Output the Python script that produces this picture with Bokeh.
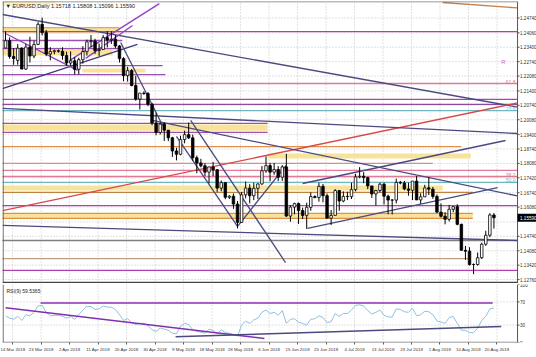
from bokeh.plotting import figure
from bokeh.models import Range1d, FixedTicker, ColumnDataSource
from bokeh.core.properties import value
from bokeh.layouts import column
from bokeh.embed import file_html
from bokeh.resources import INLINE

# ---------------- data ----------------
opens = [1.2337,1.2370,1.2298,1.2280,1.2336,1.2240,1.2341,1.2300,1.2353,1.2445,1.2407,1.2309,1.2320,1.2324,
         1.2322,1.2302,1.2268,1.2278,1.2239,1.2283,1.2320,1.2365,1.2369,1.2325,1.2330,1.2384,1.2373,1.2377,
         1.2346,1.2288,1.2210,1.2233,1.2165,1.2103,1.2130,1.2128,1.2079,1.1993,1.1950,1.1988,1.1960,1.1925,
         1.1865,1.1850,1.1917,1.1940,1.1925,1.1834,1.1810,1.1797,1.1768,1.1792,1.1779,1.1695,1.1720,1.1653,
         1.1658,1.1622,1.1538,1.1664,1.1695,1.1660,1.1694,1.1714,1.1774,1.1798,1.1768,1.1780,1.1745,1.1792,
         1.1567,1.1608,1.1624,1.1592,1.1570,1.1607,1.1656,1.1652,1.1703,1.1660,1.1557,1.1570,1.1684,1.1636,
         1.1657,1.1656,1.1688,1.1746,1.1749,1.1743,1.1705,1.1668,1.1684,1.1713,1.1658,1.1640,1.1640,1.1721,
         1.1718,1.1691,1.1685,1.1727,1.1641,1.1655,1.1696,1.1690,1.1657,1.1585,1.1566,1.1552,1.1598,1.1610,
         1.1529,1.1410,1.1406,1.1345,1.1345,1.1376,1.1438,1.1479,1.15718]
highs = [1.2413,1.2385,1.2336,1.2355,1.2340,1.2356,1.2388,1.2370,1.2455,1.2476,1.2419,1.2340,1.2330,1.2330,
         1.2340,1.2320,1.2321,1.2295,1.2292,1.2345,1.2375,1.2396,1.2379,1.2357,1.2396,1.2414,1.2413,1.2396,
         1.2350,1.2295,1.2250,1.2240,1.2209,1.2130,1.2138,1.2135,1.2085,1.2040,1.1996,1.1996,1.1960,1.1930,
         1.1880,1.1935,1.1958,1.1995,1.1940,1.1844,1.1829,1.1809,1.1790,1.1815,1.1781,1.1730,1.1723,1.1662,
         1.1670,1.1636,1.1677,1.1725,1.1713,1.1720,1.1717,1.1796,1.1840,1.1810,1.1810,1.1796,1.1800,1.1852,
         1.1617,1.1628,1.1629,1.1605,1.1628,1.1675,1.1662,1.1720,1.1714,1.1670,1.1595,1.1690,1.1686,1.1680,
         1.1678,1.1720,1.1760,1.1791,1.1768,1.1747,1.1705,1.1687,1.1720,1.1720,1.1665,1.1645,1.1738,1.1728,
         1.1728,1.1720,1.1726,1.1750,1.1671,1.1710,1.1745,1.1700,1.1666,1.1625,1.1585,1.1618,1.1612,1.1621,
         1.1532,1.1430,1.1424,1.1350,1.1400,1.1445,1.1500,1.1580,1.15808]
lows = [1.2335,1.2288,1.2260,1.2260,1.2240,1.2237,1.2270,1.2290,1.2350,1.2394,1.2299,1.2280,1.2308,1.2315,
        1.2283,1.2254,1.2256,1.2215,1.2216,1.2265,1.2302,1.2341,1.2310,1.2300,1.2329,1.2339,1.2355,1.2335,
        1.2270,1.2184,1.2183,1.2161,1.2095,1.2055,1.2122,1.2070,1.1983,1.1937,1.1940,1.1911,1.1910,1.1838,
        1.1822,1.1845,1.1900,1.1920,1.1820,1.1763,1.1790,1.1750,1.1717,1.1750,1.1676,1.1680,1.1644,1.1645,
        1.1600,1.1510,1.1536,1.1648,1.1625,1.1640,1.1645,1.1710,1.1765,1.1727,1.1756,1.1727,1.1728,1.1563,
        1.1541,1.1575,1.1531,1.1553,1.1508,1.1591,1.1648,1.1633,1.1630,1.1563,1.1526,1.1570,1.1591,1.1630,
        1.1640,1.1645,1.1680,1.1740,1.1717,1.1690,1.1650,1.1615,1.1675,1.1620,1.1575,1.1574,1.1625,1.1712,
        1.1685,1.1660,1.1640,1.1640,1.1623,1.1654,1.1663,1.1646,1.1581,1.1560,1.1529,1.1542,1.1585,1.1525,
        1.1409,1.1366,1.1340,1.1301,1.1340,1.1370,1.1430,1.1470,1.15096]
closes = [1.2370,1.2298,1.2288,1.2336,1.2240,1.2341,1.2300,1.2353,1.2445,1.2407,1.2309,1.2320,1.2324,1.2322,
          1.2302,1.2268,1.2278,1.2239,1.2283,1.2320,1.2365,1.2369,1.2325,1.2330,1.2384,1.2373,1.2377,1.2346,
          1.2288,1.2210,1.2233,1.2165,1.2103,1.2130,1.2128,1.2079,1.1993,1.1950,1.1988,1.1960,1.1925,1.1865,
          1.1850,1.1917,1.1940,1.1925,1.1834,1.1810,1.1797,1.1768,1.1792,1.1779,1.1695,1.1720,1.1653,1.1658,
          1.1622,1.1538,1.1664,1.1695,1.1660,1.1694,1.1714,1.1774,1.1798,1.1768,1.1780,1.1745,1.1792,1.1567,
          1.1608,1.1624,1.1592,1.1570,1.1607,1.1656,1.1652,1.1703,1.1660,1.1557,1.1570,1.1684,1.1636,1.1657,
          1.1656,1.1688,1.1746,1.1749,1.1743,1.1705,1.1668,1.1684,1.1713,1.1658,1.1640,1.1640,1.1721,1.1718,
          1.1691,1.1685,1.1727,1.1641,1.1655,1.1696,1.1690,1.1657,1.1585,1.1566,1.1552,1.1598,1.1610,1.1529,
          1.1410,1.1406,1.1345,1.1345,1.1376,1.1438,1.1479,1.1572,1.15590]

rsi = [46,42,40,45,38,48,46,52,63,64,52,46,47,47,45,42,45,40,48,56,62,62,57,58,63,61,61,57,48,38,
       41,34,31,33,33,29,22,19,25,23,21,16,15,28,33,31,22,19,18,16,23,21,15,22,17,16,14,11,30,37,
       33,39,42,52,56,50,52,47,55,33,40,41,35,33,30,40,41,46,43,34,36,50,45,50,50,56,64,65,63,55,
       49,52,56,47,44,44,58,57,53,52,59,46,48,54,53,48,37,35,33,43,45,33,21,21,17,17,25,38,45,58,59.5365]

date_labels = ["14 Mar 2018","23 Mar 2018","2 Apr 2018","11 Apr 2018","20 Apr 2018","30 Apr 2018",
               "9 May 2018","18 May 2018","28 May 2018","6 Jun 2018","15 Jun 2018","25 Jun 2018",
               "4 Jul 2018","13 Jul 2018","23 Jul 2018","1 Aug 2018","10 Aug 2018","20 Aug 2018"]
date_bars = [0,7,14,21,28,35,42,49,56,63,70,77,84,91,98,105,112,119]

price_ticks = [1.24740,1.24060,1.23400,1.22740,1.22080,1.21400,1.20740,1.20080,1.19400,1.18740,
               1.18080,1.17420,1.16740,1.16080,1.14740,1.14080,1.13420,1.12760]
grid_prices = price_ticks + [1.15400]
rsi_ticks = [100,70,30,0]

title_text = "\u25BC EURUSD,Daily  1.15718 1.15808 1.15096 1.15590"
last_price = 1.15590
rsi_title = "RSI(9) 59.5365"

# horizontal levels: price, first bar, last bar (None = price scale)
h_levels = [1.2430,1.2412,1.2371,1.2334,1.2256,1.2215,1.2174,1.2101,1.2078,1.2050,1.1991,1.1950,
            1.1885,1.1808,1.1776,1.1748,1.1721,1.1675,1.1615,1.1579,1.1556,1.1455,1.1372,1.1318]
h_start = [-1] * len(h_levels)
h_end = [28,None,28.7,28,38.6,39.3,None,None,None,None,64.4,64.4,
         112,105,None,None,None,114.8,None,114.8,114.8,None,114,None]
h_color = ["#e8a07a","#b040b0","#9a50b0","#9a50b0","#9a50b0","#9a50b0","#e07a96","#b040b0","#8a4aa0",
           "#70b8c0","#9a50b0","#9a50b0","#e0904a","#e08a8a","#e07a96","#e07a96","#70b8c0","#c08040",
           "#b040b0","#e0904a","#e0904a","#808080","#c0a080","#b040b0"]

# zones: top, bottom, first bar, last bar
z_top = [1.2430,1.2330,1.2243,1.1986,1.1853,1.1707,1.1579]
z_bot = [1.2403,1.2302,1.2224,1.1958,1.1830,1.1684,1.1556]
z_start = [-1,-1,18.9,-1,64.4,-1,-1]
z_end = [28,26.3,34.4,64.4,114.3,107.4,114.8]

# trend lines: bar0, price0, bar1, price1
t_b0 = [-0.74,-0.74,-0.74,15.7,19.7,0,28.3,45.5,36.1,42,57,-0.74,73,74.2,-0.74,107.4]
t_p0 = [1.2490,1.1592,1.2151,1.2279,1.2289,1.2403,1.2362,1.2005,1.2005,1.1932,1.1520,1.2060,1.1716,1.1510,
        1.1524,1.2545]
t_b1 = [125.8,125.8,32.4,37.8,31.2,17.7,38.6,68.8,125.8,57,69,125.8,122.85,120.9,125.8,125.8]
t_p1 = [1.2066,1.2085,1.2353,1.2540,1.2440,1.2234,1.1982,1.1354,1.1659,1.1520,1.1800,1.1945,1.1913,1.1697,
        1.1455,1.2520]
t_color = ["#4a4a80","#d84848","#3a3a80","#9040c0","#9040c0","#9040c0","#4a4a80","#4a4a80","#4a4a80",
           "#4a4a80","#4a4a80","#4a4a80","#4a4a80","#4a4a80","#4a4a80","#c08050"]

fib_text = ["61.8","23.6","38.2","50.0"]
fib_price = [1.2174,1.2050,1.1748,1.1721]
fib_color = ["#e07a96","#70b8c0","#e07a96","#70b8c0"]

# RSI drawn lines: bar0, value0, bar1, value1
r_b0 = [8.6,0,41.8]
r_v0 = [68,60,10]
r_b1 = [119.7,63.6,121.8]
r_v1 = [68,7,27.5]
r_color = ["#9030b0","#8030b0","#4a4a80"]

# ---------------- figures ----------------
FONT = "Liberation Sans"
XR = Range1d(-0.74, 130.46)
AX = 125.8            # bar position of the price scale
YMIN, YMAX = 1.12580, 1.25496
N = len(opens)
bars = list(range(N))
grid_x = [b + 1.75 for b in date_bars]
ends = [AX if e is None else e for e in h_end]
GRID = "#c4c4c4"
AXC = "#555555"
TXT = "#333333"
SCALE_FS = "4.6px"

p = figure(frame_width=534, frame_height=282, x_range=XR, y_range=Range1d(YMIN, YMAX),
           output_backend="svg", toolbar_location=None, x_axis_location=None, y_axis_location=None,
           min_border_left=2, min_border_top=1, min_border_bottom=0, min_border_right=0,
           background_fill_color="white", border_fill_color="white")
p.outline_line_color = None
p.grid.visible = False

# grid
p.segment(x0=XR.start, x1=AX, y0=grid_prices, y1=grid_prices, line_color=GRID, line_dash="1 2")
p.segment(x0=grid_x, x1=grid_x, y0=YMIN, y1=YMAX, line_color=GRID, line_dash="1 2")
# zones
p.quad(left=z_start, right=z_end, top=z_top, bottom=z_bot, fill_color="#f6e08e", fill_alpha=0.9,
       line_color=None)
# horizontal levels
p.segment(x0=h_start, x1=ends, y0=h_levels, y1=h_levels, line_color=h_color, line_width=1.3)
# trend lines
p.segment(x0=t_b0, y0=t_p0, x1=t_b1, y1=t_p1, line_color=t_color, line_width=1.3)

# candles
body_top = [max(o, c) for o, c in zip(opens, closes)]
body_bot = [min(o, c) for o, c in zip(opens, closes)]
fills = ["white" if c >= o else "black" for o, c in zip(opens, closes)]
src = ColumnDataSource(dict(x=bars, h=highs, l=lows, t=body_top, b=body_bot, f=fills))
p.segment(x0="x", x1="x", y0="l", y1="h", source=src, line_color="black", line_width=1)
p.vbar(x="x", width=0.62, top="t", bottom="b", fill_color="f", line_color="black", line_width=0.8,
       source=src)

# labels inside chart
p.text(x=[AX] * len(fib_text), y=fib_price, text=fib_text, text_color=fib_color, text_font=value(FONT),
       text_font_size="5px", text_align="right", text_baseline="bottom", x_offset=-2)
p.text(x=[AX], y=[1.2260], text=["R"], text_color="#d070c0", text_font=value(FONT), text_font_size="6px",
       text_align="right", x_offset=-12)
p.rect(x=[XR.start], y=[YMAX], width=26, height=0.0040, fill_color="#fbf1c4", line_color=None)
p.text(x=[XR.start], y=[YMAX], text=[title_text], text_color="#222222", text_font=value(FONT),
       text_font_size="5.5px", text_baseline="top", x_offset=3, y_offset=1)

# borders and price scale
p.segment(x0=[XR.start + 0.15, XR.start, AX], x1=[XR.start + 0.15, AX, AX],
          y0=[YMIN, YMAX - 0.0001, YMIN], y1=[YMAX, YMAX - 0.0001, YMAX], line_color=AXC, line_width=1)
p.segment(x0=XR.start, x1=AX, y0=YMIN + 0.0003, y1=YMIN + 0.0003, line_color="#444444", line_width=2)
p.segment(x0=AX, x1=AX + 0.5, y0=price_ticks, y1=price_ticks, line_color=AXC)
p.text(x=[AX] * len(price_ticks), y=price_ticks, text=["%.5f" % t for t in price_ticks], text_color=TXT,
       text_font=value(FONT), text_font_size=SCALE_FS, text_baseline="middle", x_offset=2.5)
p.rect(x=[AX + 2.45], y=[last_price], width=4.9, height=0.0036, fill_color="black", line_color=None)
p.text(x=[AX], y=[last_price], text=["%.5f" % last_price], text_color="white", text_font=value(FONT),
       text_font_size=SCALE_FS, text_baseline="middle", x_offset=2.5)

# ---------------- RSI panel ----------------
r = figure(frame_width=534, frame_height=58, x_range=XR, y_range=Range1d(0, 100),
           output_backend="svg", toolbar_location=None, y_axis_location=None,
           min_border_left=2, min_border_top=1, min_border_bottom=0, min_border_right=0,
           background_fill_color="white", border_fill_color="white")
r.outline_line_color = None
r.grid.visible = False
r.xaxis.ticker = FixedTicker(ticks=grid_x)
r.xaxis.major_label_overrides = {gx: t for gx, t in zip(grid_x, date_labels)}
r.xaxis.major_label_text_font = FONT
r.xaxis.major_label_text_font_size = "4.4px"
r.xaxis.major_label_text_color = TXT
r.xaxis.major_tick_out = 2
r.xaxis.major_tick_in = 0
r.xaxis.minor_tick_out = 0
r.xaxis.minor_tick_in = 0
r.xaxis.major_label_standoff = 2
r.xaxis.axis_line_color = None
r.xaxis.major_tick_line_color = AXC

r.segment(x0=XR.start, x1=AX, y0=[30, 70], y1=[30, 70], line_color=GRID, line_dash="1 2")
r.segment(x0=grid_x, x1=grid_x, y0=0, y1=100, line_color=GRID, line_dash="1 2")
r.line(bars, rsi, line_color="#8fc0e0", line_width=1)
r.segment(x0=r_b0, y0=r_v0, x1=r_b1, y1=r_v1, line_color=r_color, line_width=1.5)
r.text(x=[XR.start], y=[100], text=[rsi_title], text_color="#222222", text_font=value(FONT),
       text_font_size="5px", text_baseline="top", x_offset=4, y_offset=3)

r.segment(x0=[XR.start + 0.15, AX, XR.start], x1=[XR.start + 0.15, AX, AX], y0=[0, 0, 0.3],
          y1=[100, 100, 0.3], line_color=AXC, line_width=1)
r.segment(x0=AX, x1=AX + 0.5, y0=rsi_ticks, y1=rsi_ticks, line_color=AXC)
r.text(x=[AX] * len(rsi_ticks), y=rsi_ticks, text=[str(t) for t in rsi_ticks], text_color=TXT,
       text_font=value(FONT), text_font_size=SCALE_FS, text_baseline="middle", x_offset=2.5)

layout = column(p, r, spacing=0)
open("out.html", "w").write(file_html(layout, INLINE))
